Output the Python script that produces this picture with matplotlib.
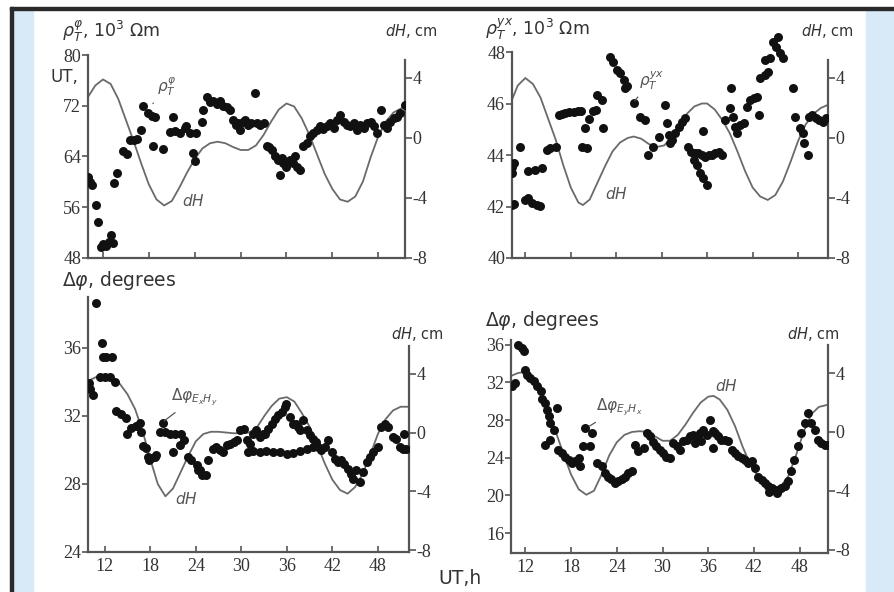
import matplotlib
matplotlib.use("Agg")
import matplotlib.pyplot as plt
from matplotlib.patches import Rectangle

plt.rcParams['font.family'] = ['Liberation Serif', 'DejaVu Sans']
plt.rcParams['axes.unicode_minus'] = False

W, H = 894, 592

# ---- top left: rho_T, 10^3 Ohm m ----
tl_t = [10.0, 10.3, 10.5, 11.1, 11.4, 11.8, 12.0, 12.4, 12.8, 13.1,
        13.3, 13.5, 13.8, 14.6, 15.1, 15.5, 16.0, 16.4, 17.0, 17.25,
        17.9, 18.4, 18.8, 18.6, 19.9, 20.7, 21.2, 21.4, 22.1, 22.7,
        22.9, 23.4, 23.8, 24.0, 24.2, 24.9, 25.1, 25.6, 26.0, 26.4,
        26.9, 27.3, 27.7, 28.2, 28.6, 29.0, 29.4, 29.7, 29.9, 30.3,
        30.6, 31.0, 31.4, 31.9, 32.1, 32.5, 33.0, 33.4, 33.7, 34.1,
        34.5, 34.9, 35.2, 35.4, 35.6, 36.0, 36.3, 36.5, 36.9, 37.1,
        37.4, 37.8, 38.2, 38.7, 39.1, 39.5, 40.0, 40.4, 40.8, 41.3,
        41.7, 42.2, 42.6, 43.0, 43.5, 43.9, 44.3, 44.8, 45.2, 45.6,
        46.1, 46.5, 47.0, 47.4, 47.8, 48.3, 48.7, 49.1, 49.6, 50.0,
        50.4, 50.9, 51.5]
tl_rho = [60.8, 60.0, 59.5, 56.4, 53.6, 49.8, 50.2, 49.9, 50.6, 51.6,
          50.4, 59.8, 61.4, 64.8, 64.4, 66.6, 66.6, 66.8, 68.2, 72.0,
          70.9, 70.4, 70.3, 65.6, 65.2, 67.9, 70.3, 68.0, 67.7, 68.5,
          68.8, 67.7, 64.5, 63.3, 67.7, 69.5, 71.3, 73.4, 72.6, 72.8,
          72.3, 72.8, 72.0, 71.8, 71.3, 69.8, 69.0, 69.3, 68.2, 69.5,
          69.8, 68.9, 69.3, 74.0, 69.3, 69.0, 69.3, 65.6, 65.5, 65.1,
          64.0, 63.5, 61.1, 63.7, 63.0, 62.4, 63.2, 63.5, 63.0, 64.0,
          62.4, 61.9, 65.6, 66.1, 67.2, 67.7, 68.2, 68.8, 68.4, 68.8,
          69.3, 68.5, 69.8, 70.6, 69.5, 69.0, 68.8, 69.3, 68.2, 69.0,
          68.5, 69.3, 69.5, 68.8, 67.7, 71.3, 69.0, 68.5, 69.5, 70.1,
          70.3, 70.8, 72.1]
tl_dh_t = [10, 11, 12, 13, 14, 15, 16, 17, 18, 19, 20, 21, 22, 23, 24,
           25, 26, 27, 28, 29, 30, 31, 32, 33, 34, 35, 36, 37, 38, 39,
           40, 41, 42, 43, 44, 45, 46, 47, 48, 49, 50, 51.5]
tl_dh = [2.7, 3.5, 3.9, 3.6, 2.6, 1.2, -0.2, -1.7, -3.1, -4.1, -4.5, -4.2,
         -3.3, -2.3, -1.4, -0.7, -0.35, -0.25, -0.35, -0.6, -0.8, -0.8,
         -0.5, 0.2, 1.1, 1.9, 2.3, 2.1, 1.3, 0.2, -1.1, -2.4, -3.4, -4.1,
         -4.25, -3.9, -2.9, -1.3, 0.1, 1.1, 1.7, 2.1]

# ---- top right ----
tr_t = [10.24, 10.3, 10.5, 10.24, 10.5, 11.3, 12.0, 12.4, 12.9, 13.5,
        14.0, 12.4, 13.3, 14.2, 14.9, 15.3, 16.0, 16.4, 16.9, 17.3,
        17.8, 18.4, 18.9, 19.3, 19.5, 20.1, 19.9, 20.4, 20.9, 21.3,
        21.5, 22.1, 22.3, 23.2, 23.6, 24.1, 24.5, 25.0, 25.4, 25.2,
        26.3, 27.1, 27.8, 28.2, 28.9, 29.6, 30.4, 30.7, 30.9, 31.1,
        31.3, 31.8, 32.3, 32.7, 33.1, 33.5, 33.9, 34.4, 34.8, 35.3,
        35.7, 36.2, 36.6, 37.0, 37.5, 37.9, 34.2, 34.6, 35.1, 35.5,
        36.0, 35.5, 38.3, 39.0, 39.4, 39.2, 39.7, 39.9, 40.4, 40.8,
        41.3, 41.7, 42.2, 42.6, 42.8, 43.0, 43.6, 44.0, 43.6, 44.3,
        44.7, 45.1, 45.6, 46.0, 45.4, 47.3, 47.6, 48.2, 48.6, 48.8,
        49.3, 49.5, 49.9, 50.4, 50.8, 51.3, 51.7]
tr_rho = [43.55, 43.29, 43.68, 42.06, 42.1, 44.33, 42.26, 42.32, 42.13, 42.06,
          42.02, 43.4, 43.43, 43.5, 44.2, 44.27, 44.33, 45.56, 45.6, 45.63,
          45.67, 45.67, 45.73, 45.73, 44.33, 44.27, 45.05, 45.4, 45.7, 45.76,
          46.34, 46.15, 45.05, 47.83, 47.64, 47.31, 47.19, 46.93, 46.67, 46.6,
          46.02, 45.5, 45.37, 44.0, 44.33, 44.72, 45.95, 45.24, 44.79, 44.46,
          44.6, 44.85, 45.1, 45.3, 45.43, 44.33, 44.14, 44.07, 44.07, 44.0,
          43.94, 44.0, 44.0, 44.07, 44.14, 44.0, 43.81, 43.62, 43.29, 43.1,
          42.84, 44.92, 45.37, 45.82, 45.5, 46.6, 45.1, 44.85, 45.17, 45.24,
          45.89, 46.15, 46.21, 46.28, 45.56, 46.99, 47.12, 47.25, 47.7, 47.77,
          48.4, 48.2, 47.96, 47.77, 48.6, 46.6, 45.5, 45.05, 44.85, 44.46,
          44.0, 45.5, 45.56, 45.43, 45.37, 45.3, 45.43]
tr_dh_t = [10.2, 11, 12, 13, 14, 15, 16, 17, 18, 19, 19.6, 20.5, 21.5, 22.5,
           23.5, 24.5, 25.5, 26.3, 27.3, 28.3, 29.3, 30.3, 31.3, 32.3, 33.3,
           34.3, 35.3, 36.0, 37, 38, 39, 40, 41, 42, 43, 44, 45, 46, 47, 48,
           49, 50, 51, 51.9]
tr_dh = [2.5, 3.5, 4.0, 3.6, 2.7, 1.3, -0.1, -1.8, -3.3, -4.3, -4.47, -4.1,
         -3.0, -1.9, -0.9, -0.3, 0.0, 0.1, -0.05, -0.4, -0.6, -0.5, 0.0, 0.8,
         1.6, 2.1, 2.3, 2.3, 1.9, 1.2, 0.3, -0.9, -2.2, -3.3, -3.9, -4.13,
         -3.8, -2.9, -1.6, -0.2, 0.9, 1.6, 2.0, 2.2]

# ---- bottom left: delta phi, degrees ----
bl_t = [10.8, 9.9, 10.1, 10.5, 11.6, 11.8, 12.2, 12.9, 11.4, 12.0,
        12.7, 13.3, 13.5, 14.1, 14.8, 15.5, 15.0, 16.1, 16.6, 16.8,
        17.0, 17.5, 17.7, 17.9, 18.1, 18.6, 18.8, 19.7, 19.3, 19.9,
        20.6, 21.3, 22.1, 21.0, 21.9, 22.5, 23.0, 23.4, 24.1, 24.5,
        24.8, 25.4, 24.3, 25.6, 26.3, 26.7, 27.2, 27.6, 28.1, 28.5,
        29.0, 29.4, 29.8, 30.3, 30.7, 31.2, 31.6, 32.0, 32.4, 32.9,
        30.9, 31.6, 32.4, 33.3, 34.2, 35.1, 36.0, 36.8, 37.7, 38.6,
        39.4, 33.1, 33.5, 34.0, 34.4, 34.8, 35.3, 35.7, 35.9, 36.4,
        36.8, 37.2, 37.5, 37.7, 38.1, 38.6, 39.0, 39.4, 39.9, 40.1,
        40.5, 41.0, 41.4, 41.9, 42.3, 42.7, 43.2, 43.6, 44.1, 44.5,
        44.7, 45.1, 45.6, 46.0, 46.5, 46.9, 47.3, 48.0, 48.4, 48.9,
        49.3, 50.0, 50.4, 50.9, 51.3, 51.7, 51.5]
bl_phi = [38.6, 33.9, 33.6, 33.2, 36.3, 35.45, 35.45, 35.45, 34.3, 34.3,
          34.3, 34.0, 32.3, 32.1, 31.9, 31.3, 30.95, 31.4, 31.6, 31.05,
          30.2, 30.1, 29.6, 29.4, 29.5, 29.6, 29.7, 31.6, 31.05, 31.05,
          30.95, 30.95, 30.95, 29.9, 30.3, 30.6, 29.6, 29.4, 29.1, 28.8,
          28.5, 28.5, 28.8, 29.4, 30.07, 30.17, 29.97, 29.87, 30.26, 30.36,
          30.46, 30.56, 31.15, 31.24, 30.56, 30.36, 30.95, 31.15, 30.75, 30.95,
          29.85, 29.95, 29.9, 29.95, 29.9, 29.85, 29.75, 29.8, 29.95, 30.05,
          30.15, 30.95, 31.24, 31.54, 31.83, 32.03, 32.22, 32.52, 32.71, 31.93,
          31.54, 31.54, 31.34, 31.15, 31.73, 31.15, 30.85, 30.66, 30.46, 30.17,
          29.97, 30.17, 30.56, 29.87, 29.48, 29.29, 29.38, 29.19, 28.89, 28.6,
          28.3, 28.8, 28.11, 28.7, 29.29, 29.58, 29.87, 30.17, 31.34, 31.54,
          31.34, 30.75, 30.66, 30.17, 30.07, 30.07, 30.95]
bl_dh_t = [9.8, 11, 12, 13, 14, 15, 16, 17, 18, 19, 20, 21, 22, 23, 24, 25,
           26, 27, 28, 29, 30, 31, 32, 33, 34, 35, 36, 37, 38, 39, 40, 41,
           42, 43, 44, 45, 46, 47, 48, 49, 50, 51, 52.1]
bl_dh = [3.5, 3.8, 3.9, 3.8, 3.3, 2.6, 1.6, 0.1, -1.8, -3.5, -4.33, -3.8,
         -2.7, -1.6, -0.6, -0.1, 0.05, 0.05, 0.0, -0.05, -0.05, 0.0, 0.3,
         1.1, 1.8, 2.3, 2.4, 2.1, 1.3, 0.4, -0.8, -2.1, -3.2, -3.9, -4.15,
         -3.7, -2.8, -1.5, -0.1, 0.9, 1.5, 1.75, 1.75]

# ---- bottom right ----
br_t = [11.1, 11.5, 11.8, 10.25, 10.7, 12.0, 12.2, 12.6, 13.1, 13.5,
        14.0, 14.2, 14.6, 14.85, 15.1, 15.3, 15.7, 16.1, 14.6, 15.3,
        16.3, 16.8, 17.2, 17.7, 18.1, 18.5, 19.0, 19.2, 19.6, 20.5,
        19.85, 20.7, 21.4, 22.0, 22.5, 22.9, 23.3, 23.8, 24.2, 24.65,
        25.1, 25.5, 26.0, 26.4, 26.8, 27.5, 27.9, 28.4, 28.8, 29.2,
        29.7, 30.1, 30.5, 31.0, 31.4, 31.85, 32.3, 32.7, 33.2, 33.6,
        34.0, 34.5, 34.9, 35.3, 35.8, 36.2, 36.65, 36.9, 37.3, 37.7,
        38.2, 38.6, 39.05, 39.5, 39.9, 40.4, 40.8, 41.2, 41.7, 42.1,
        42.5, 43.0, 43.4, 43.85, 44.3, 44.7, 45.2, 45.6, 46.0, 46.5,
        46.9, 47.3, 47.8, 48.2, 48.65, 49.1, 49.5, 49.96, 50.4, 50.8,
        51.3, 51.7, 34.2, 35.0, 36.6, 44.0, 45.0]
br_phi = [36.0, 35.65, 35.3, 31.6, 31.9, 33.35, 32.8, 32.46, 32.1, 31.6,
          31.05, 30.2, 29.8, 29.1, 28.4, 27.7, 26.97, 29.3, 25.4, 25.9,
          24.85, 24.5, 24.1, 23.8, 23.4, 23.6, 23.96, 23.1, 25.2, 25.2,
          27.15, 26.6, 23.4, 23.1, 22.4, 22.0, 21.7, 21.3, 21.5, 21.7,
          22.0, 22.4, 22.55, 25.4, 24.7, 25.0, 26.6, 26.3, 25.7, 25.2,
          24.85, 24.5, 24.1, 23.96, 25.56, 25.2, 24.85, 25.73, 25.9, 26.27,
          26.44, 26.09, 26.6, 26.97, 26.44, 28.04, 25.03, 26.6, 26.27, 25.9,
          25.9, 25.73, 24.85, 24.5, 24.14, 23.96, 23.79, 23.43, 23.61, 22.9,
          22.0, 21.66, 21.3, 20.96, 20.78, 20.6, 20.6, 20.78, 20.96, 21.49,
          22.55, 23.79, 25.2, 26.6, 27.68, 28.74, 27.68, 26.97, 25.9, 25.56,
          25.4, 25.4, 25.6, 25.8, 26.8, 20.4, 20.3]
br_dh_t = [10.1, 11, 12, 13, 14, 15, 16, 17, 18, 19, 20, 21, 22, 23, 24, 25,
           26, 27, 28, 29, 30, 31, 32, 33, 34, 35, 36, 36.7, 37.5, 38.5, 39.5,
           40.5, 41.5, 42.5, 43.5, 44.5, 45.5, 46.5, 47.5, 48.5, 49.5, 50.5,
           51.7]
br_dh = [3.8, 4.0, 4.1, 3.6, 2.7, 1.5, 0.0, -1.5, -2.9, -3.9, -4.27, -4.0,
         -2.9, -1.6, -0.7, -0.2, 0.0, 0.05, 0.0, -0.3, -0.6, -0.6, -0.2, 0.5,
         1.3, 2.0, 2.4, 2.45, 2.2, 1.5, 0.4, -1.0, -2.2, -3.0, -3.6, -3.93,
         -3.7, -3.0, -1.6, 0.0, 1.2, 1.7, 1.85]

ut_ticks = [12, 18, 24, 30, 36, 42, 48]
dh_ticks = [-8, -4, 0, 4]

SPINE = '#555555'
TXT = '#333333'


def fpos(x, y):
    # pixel position -> figure fraction
    return x / W, 1 - y / H


fig = plt.figure(figsize=(W / 100, H / 100), dpi=100)

# scan frame and blue side strips
fig.patches.append(Rectangle(fpos(12, H), 21 / W, 582 / H, transform=fig.transFigure,
                             color='#d8e9f7', zorder=0))
fig.patches.append(Rectangle(fpos(866, H), 28 / W, 582 / H, transform=fig.transFigure,
                             color='#d8e9f7', zorder=0))
fig.patches.append(Rectangle(fpos(10, 10), 884 / W, 3 / H, transform=fig.transFigure,
                             color='#2a2a2a', zorder=1))
fig.patches.append(Rectangle(fpos(10, H), 2.5 / W, 585 / H, transform=fig.transFigure,
                             color='#2a2a2a', zorder=1))


def panel(box, xlim, ylim, y2lim, yticks, rtop, ltop, xlabels, t, v, dt, dh):
    l, top, r, b = box
    ax = fig.add_axes([l / W, 1 - b / H, (r - l) / W, (b - top) / H])
    ax2 = ax.twinx()
    ax.set_zorder(ax2.get_zorder() + 1)
    ax.patch.set_visible(False)

    ax.scatter(t, v, s=42, color='#111111', linewidths=0, zorder=3)
    ax2.plot(dt, dh, color='#6a6a6a', lw=1.3)

    ax.set_xlim(*xlim)
    ax.set_ylim(*ylim)
    ax2.set_ylim(*y2lim)

    for s in ['top', 'right']:
        ax.spines[s].set_visible(False)
    for s in ['top', 'left', 'bottom']:
        ax2.spines[s].set_visible(False)
    for sp in [ax.spines['left'], ax.spines['bottom'], ax2.spines['right']]:
        sp.set_color(SPINE)
        sp.set_linewidth(1.6)
    ax.spines['left'].set_bounds(ylim[0], ltop)
    ax2.spines['right'].set_bounds(y2lim[0], rtop)

    ax.set_xticks(ut_ticks)
    ax.set_yticks(yticks)
    ax2.set_yticks(dh_ticks)
    ax2.set_yticklabels([str(d) for d in dh_ticks])
    if not xlabels:
        ax.set_xticklabels([])
    ax.tick_params(axis='x', direction='in', length=4, width=1.2, color=SPINE,
                   labelcolor=TXT, labelsize=13, pad=4)
    ax.tick_params(axis='y', direction='out', length=4, width=1.2, color=SPINE,
                   labelcolor=TXT, labelsize=13, pad=1)
    ax2.tick_params(axis='y', direction='out', length=5, width=1.2, color=SPINE,
                    labelcolor=TXT, labelsize=13, pad=0.5)
    return ax, ax2


ax_tl, ax_tl2 = panel((88, 55, 405, 258), (10.04, 51.5), (48, 80), (-8, 5.53),
                      [48, 56, 64, 72, 80], 5.2, 80, False,
                      tl_t, tl_rho, tl_dh_t, tl_dh)
ax_tr, ax_tr2 = panel((512, 33, 828, 258), (10.24, 51.95), (40, 48.75), (-8, 7.0),
                      [40, 42, 44, 46, 48], 5.2, 48, False,
                      tr_t, tr_rho, tr_dh_t, tr_dh)
ax_bl, ax_bl2 = panel((88, 297, 409, 552), (9.8, 52.1), (24, 38.98), (-8.11, 9.2),
                      [24, 28, 32, 36], 5.9, 38.98, True,
                      bl_t, bl_phi, bl_dh_t, bl_dh)
ax_br, ax_br2 = panel((511, 340, 828, 553), (10.12, 51.7), (13.88, 36.5), (-8.23, 6.25),
                      [16, 20, 24, 28, 32, 36], 5.9, 36.5, True,
                      br_t, br_phi, br_dh_t, br_dh)

# axis titles
sans = 'DejaVu Sans'
fig.text(*fpos(62, 31), r'$\rho_T^{\varphi}$, 10$^3$ $\Omega$m', family=sans, fontsize=12.5,
         color=TXT, ha='left', va='center')
fig.text(*fpos(485, 29), r'$\rho_T^{yx}$, 10$^3$ $\Omega$m', family=sans, fontsize=12.5,
         color=TXT, ha='left', va='center')
fig.text(*fpos(62, 281), r'$\Delta\varphi$, degrees', family=sans, fontsize=13.5,
         color=TXT, ha='left', va='center')
fig.text(*fpos(485, 320), r'$\Delta\varphi$, degrees', family=sans, fontsize=13.5,
         color=TXT, ha='left', va='center')
for x, y in [(411, 31), (827, 31), (417, 334), (813, 334)]:
    fig.text(*fpos(x, y), r'$dH$, cm', family=sans, fontsize=10.5, color=TXT,
             ha='center', va='center')
fig.text(*fpos(78, 77), 'UT,', family=sans, fontsize=12, color=TXT, ha='right', va='center')
fig.text(*fpos(460, 579), 'UT,h', family=sans, fontsize=13.5, color=TXT,
         ha='center', va='center')

# curve labels with leaders
lead = dict(arrowstyle='-', color='#555555', lw=0.9)
ax_tl.annotate(r'$\rho_T^{\varphi}$', xy=(18.3, 72.0), xytext=(19.1, 73.2), fontsize=11,
               color='#555555', ha='left', va='bottom', arrowprops=lead)
ax_tl2.text(22.3, -4.2, r'$dH$', fontsize=11, color='#555555', ha='left', va='center')
ax_tr.annotate(r'$\rho_T^{yx}$', xy=(26.2, 46.03), xytext=(27.0, 46.45), fontsize=11,
               color='#555555', ha='left', va='bottom', arrowprops=lead)
ax_tr2.text(22.5, -3.75, r'$dH$', fontsize=11, color='#555555', ha='left', va='center')
ax_bl.annotate(r'$\Delta\varphi_{E_x H_y}$', xy=(19.55, 31.6), xytext=(20.8, 32.45),
               fontsize=11, color='#555555', ha='left', va='bottom', arrowprops=lead)
ax_bl2.text(21.3, -4.5, r'$dH$', fontsize=11, color='#555555', ha='left', va='center')
ax_br.annotate(r'$\Delta\varphi_{E_y H_x}$', xy=(20.1, 27.2), xytext=(21.3, 28.2),
               fontsize=11, color='#555555', ha='left', va='bottom', arrowprops=lead)
ax_br2.text(38.4, 3.15, r'$dH$', fontsize=11, color='#555555', ha='center', va='center')

fig.savefig('out.png', dpi=100)
